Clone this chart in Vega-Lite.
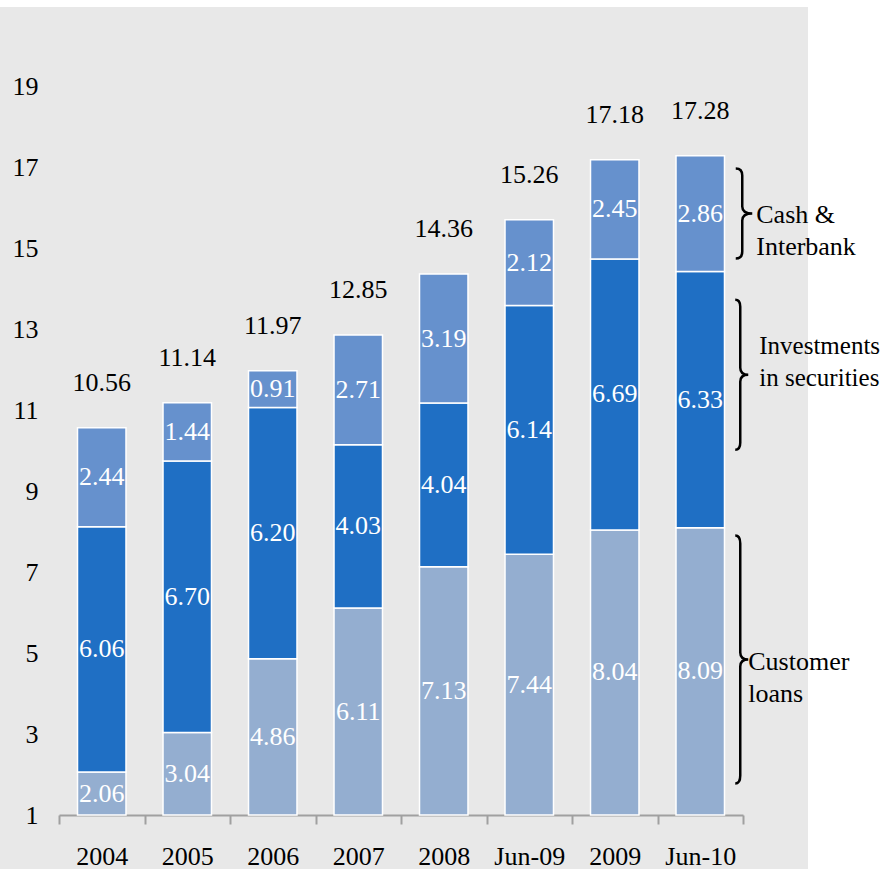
{
  "$schema": "https://vega.github.io/schema/vega-lite/v6.json",
  "width": 808,
  "height": 862,
  "autosize": {"type": "none"},
  "padding": {"left": 0, "top": 7, "right": 80, "bottom": 0},
  "background": "white",
  "config": {
    "view": {"fill": "#e8e8e8", "stroke": null},
    "font": "Liberation Serif",
    "text": {"font": "Liberation Serif"}
  },
  "data": {
    "values": [
      {"period": "2004", "series": "Customer loans", "value": 2.06, "total": 10.56},
      {"period": "2004", "series": "Investments in securities", "value": 6.06, "total": 10.56},
      {"period": "2004", "series": "Cash & Interbank", "value": 2.44, "total": 10.56},
      {"period": "2005", "series": "Customer loans", "value": 3.04, "total": 11.14},
      {"period": "2005", "series": "Investments in securities", "value": 6.70, "total": 11.14},
      {"period": "2005", "series": "Cash & Interbank", "value": 1.44, "total": 11.14},
      {"period": "2006", "series": "Customer loans", "value": 4.86, "total": 11.97},
      {"period": "2006", "series": "Investments in securities", "value": 6.20, "total": 11.97},
      {"period": "2006", "series": "Cash & Interbank", "value": 0.91, "total": 11.97},
      {"period": "2007", "series": "Customer loans", "value": 6.11, "total": 12.85},
      {"period": "2007", "series": "Investments in securities", "value": 4.03, "total": 12.85},
      {"period": "2007", "series": "Cash & Interbank", "value": 2.71, "total": 12.85},
      {"period": "2008", "series": "Customer loans", "value": 7.13, "total": 14.36},
      {"period": "2008", "series": "Investments in securities", "value": 4.04, "total": 14.36},
      {"period": "2008", "series": "Cash & Interbank", "value": 3.19, "total": 14.36},
      {"period": "Jun-09", "series": "Customer loans", "value": 7.44, "total": 15.26},
      {"period": "Jun-09", "series": "Investments in securities", "value": 6.14, "total": 15.26},
      {"period": "Jun-09", "series": "Cash & Interbank", "value": 2.12, "total": 15.26},
      {"period": "2009", "series": "Customer loans", "value": 8.04, "total": 17.18},
      {"period": "2009", "series": "Investments in securities", "value": 6.69, "total": 17.18},
      {"period": "2009", "series": "Cash & Interbank", "value": 2.45, "total": 17.18},
      {"period": "Jun-10", "series": "Customer loans", "value": 8.09, "total": 17.28},
      {"period": "Jun-10", "series": "Investments in securities", "value": 6.33, "total": 17.28},
      {"period": "Jun-10", "series": "Cash & Interbank", "value": 2.86, "total": 17.28}
    ]
  },
  "transform": [
    {"calculate": "indexof(['Customer loans', 'Investments in securities', 'Cash & Interbank'], datum.series)", "as": "stackOrder"},
    {"stack": "value", "groupby": ["period"], "sort": [{"field": "stackOrder", "order": "ascending"}], "as": ["v0", "v1"]},
    {"calculate": "(max(datum.v0, 1) + datum.v1) / 2", "as": "mid"}
  ],
  "encoding": {
    "x": {
      "field": "period",
      "type": "nominal",
      "sort": ["2004", "2005", "2006", "2007", "2008", "Jun-09", "2009", "Jun-10"],
      "scale": {"type": "band", "range": [59, 743], "paddingInner": 0, "paddingOuter": 0},
      "axis": {
        "title": null,
        "orient": "bottom",
        "offset": -54,
        "labelAngle": 0,
        "domainColor": "#a0a0a0",
        "domainWidth": 2,
        "tickColor": "#a0a0a0",
        "tickWidth": 2,
        "tickSize": 9,
        "tickBand": "extent",
        "labelPadding": 19,
        "labelFont": "Liberation Serif",
        "labelFontSize": 26,
        "labelColor": "#000000"
      }
    }
  },
  "layer": [
    {
      "mark": {"type": "bar", "width": {"band": 0.567}, "stroke": "#ffffff", "strokeWidth": 1.5},
      "encoding": {
        "y": {
          "field": "v1",
          "type": "quantitative",
          "scale": {"domain": [1, 19], "range": [808, 79], "clamp": true, "nice": false, "zero": false},
          "axis": {
            "title": null,
            "values": [1, 3, 5, 7, 9, 11, 13, 15, 17, 19],
            "domain": false,
            "ticks": false,
            "grid": false,
            "offset": -38,
            "labelPadding": 0,
            "labelFont": "Liberation Serif",
            "labelFontSize": 26,
            "labelColor": "#000000"
          }
        },
        "y2": {"field": "v0"},
        "color": {
          "field": "series",
          "type": "nominal",
          "scale": {
            "domain": ["Customer loans", "Investments in securities", "Cash & Interbank"],
            "range": ["#94aed0", "#1f6fc4", "#6691cd"]
          },
          "legend": null
        }
      }
    },
    {
      "mark": {"type": "text", "color": "#ffffff", "fontSize": 26, "baseline": "middle", "align": "center"},
      "encoding": {
        "y": {"field": "mid", "type": "quantitative"},
        "text": {"field": "value", "type": "quantitative", "format": ".2f"}
      }
    },
    {
      "transform": [
        {"aggregate": [{"op": "sum", "field": "value", "as": "top"}, {"op": "max", "field": "total", "as": "total"}], "groupby": ["period"]}
      ],
      "mark": {"type": "text", "color": "#000000", "fontSize": 26, "baseline": "middle", "align": "center", "dy": -45},
      "encoding": {
        "y": {"field": "top", "type": "quantitative"},
        "text": {"field": "total", "type": "quantitative", "format": ".2f"}
      }
    },
    {
      "transform": [{"filter": "datum.period === 'Jun-10' && datum.series === 'Cash & Interbank'"}],
      "mark": {"type": "point", "shape": "M -0.065 -0.45 Q 0 -0.45 0 -0.38 L 0 -0.07 Q 0 0 0.1 0 Q 0 0 0 0.07 L 0 0.38 Q 0 0.45 -0.065 0.45", "size": 40000, "filled": false, "stroke": "#000000", "strokeWidth": 2.5, "opacity": 1, "xOffset": 42},
      "encoding": {"y": {"field": "mid", "type": "quantitative"}}
    },
    {
      "transform": [{"filter": "datum.period === 'Jun-10' && datum.series === 'Investments in securities'"}],
      "mark": {"type": "point", "shape": "M -0.05 -0.75 Q 0 -0.75 0 -0.68 L 0 -0.07 Q 0 0 0.08 0 Q 0 0 0 0.07 L 0 0.68 Q 0 0.75 -0.05 0.75", "size": 40000, "filled": false, "stroke": "#000000", "strokeWidth": 2.5, "opacity": 1, "xOffset": 40, "yOffset": -25},
      "encoding": {"y": {"field": "mid", "type": "quantitative"}}
    },
    {
      "transform": [{"filter": "datum.period === 'Jun-10' && datum.series === 'Customer loans'"}],
      "mark": {"type": "point", "shape": "M -0.05 -1.24 Q 0 -1.24 0 -1.16 L 0 -0.07 Q 0 0 0.08 0 Q 0 0 0 0.07 L 0 1.16 Q 0 1.24 -0.05 1.24", "size": 40000, "filled": false, "stroke": "#000000", "strokeWidth": 2.5, "opacity": 1, "xOffset": 40, "yOffset": -12},
      "encoding": {"y": {"field": "mid", "type": "quantitative"}}
    },
    {
      "transform": [{"filter": "datum.period === 'Jun-10' && datum.series === 'Cash & Interbank'"}],
      "mark": {"type": "text", "align": "left", "baseline": "middle", "fontSize": 26, "lineHeight": 32, "color": "#000000", "dx": 56, "dy": 1},
      "encoding": {"y": {"field": "mid", "type": "quantitative"}, "text": {"value": ["Cash &", "Interbank"]}}
    },
    {
      "transform": [{"filter": "datum.period === 'Jun-10' && datum.series === 'Investments in securities'"}],
      "mark": {"type": "text", "align": "left", "baseline": "middle", "fontSize": 25, "lineHeight": 32, "color": "#000000", "dx": 59, "dy": -54},
      "encoding": {"y": {"field": "mid", "type": "quantitative"}, "text": {"value": ["Investments", "in securities"]}}
    },
    {
      "transform": [{"filter": "datum.period === 'Jun-10' && datum.series === 'Customer loans'"}],
      "mark": {"type": "text", "align": "left", "baseline": "middle", "fontSize": 26, "lineHeight": 32, "color": "#000000", "dx": 48, "dy": -9},
      "encoding": {"y": {"field": "mid", "type": "quantitative"}, "text": {"value": ["Customer", "loans"]}}
    }
  ]
}
